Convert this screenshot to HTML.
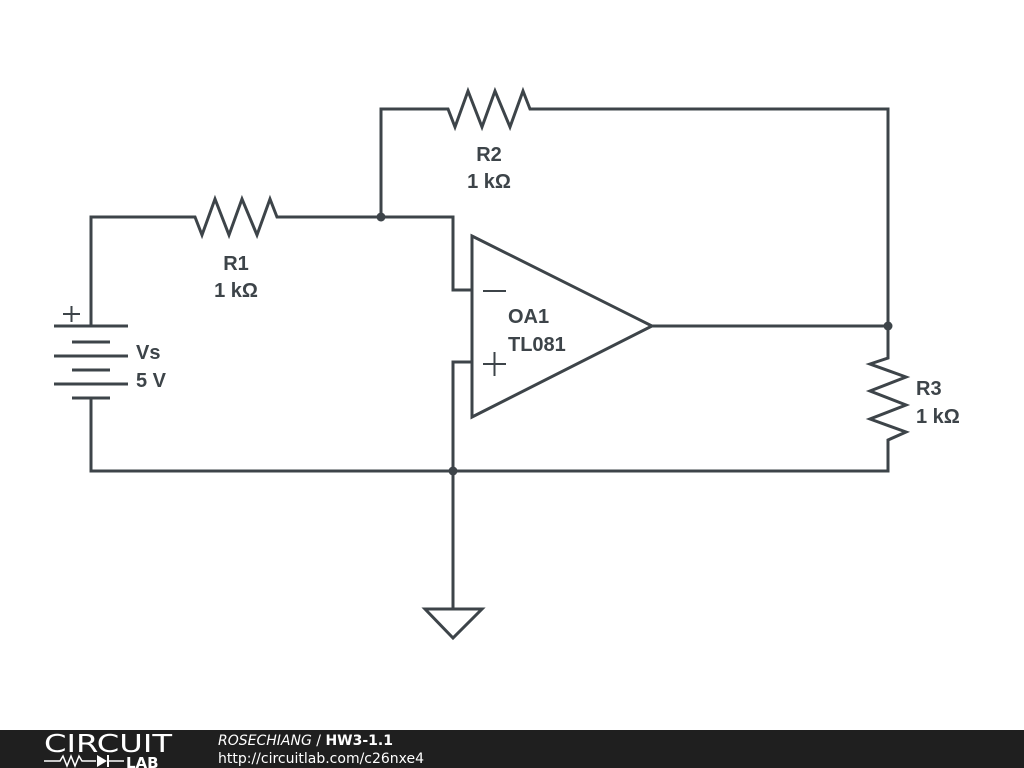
<!DOCTYPE html>
<html><head><meta charset="utf-8"><style>
body{margin:0;width:1024px;height:768px;background:#fff;overflow:hidden;position:relative;font-family:"Liberation Sans","DejaVu Sans",sans-serif}
svg{position:absolute;left:0;top:0}
.t{font-family:"Liberation Sans","DejaVu Sans",sans-serif;font-weight:bold;font-size:20px;fill:#3d4449}
</style></head><body>
<svg width="1024" height="768" viewBox="0 0 1024 768">
<g fill="none" stroke="#3d4449" stroke-width="3" stroke-linejoin="miter">
<polyline points="91,326 91,217 195,217 202,235 215,199 229,235 242,199 257,235 270,199 277,217 453,217 453,290 472,290"/>
<polyline points="381,217 381,109 448,109 455,127 468,91 482,127 495,91 510,127 523,91 530,109 888,109 888,358 870,364 906,377 870,391 906,405 870,419 906,432 888,440 888,471 91,471 91,398"/>
<polyline points="472,362 453,362 453,609"/>
<line x1="652" y1="326" x2="888" y2="326"/>
<polygon points="472,236 652,326 472,417"/>
<line x1="54" y1="326" x2="128" y2="326"/>
<line x1="72" y1="342" x2="110" y2="342"/>
<line x1="54" y1="356" x2="128" y2="356"/>
<line x1="72" y1="370" x2="110" y2="370"/>
<line x1="54" y1="384" x2="128" y2="384"/>
<line x1="72" y1="398" x2="110" y2="398"/>
<line x1="63" y1="314" x2="80" y2="314" stroke-width="2"/>
<line x1="71.5" y1="306" x2="71.5" y2="322" stroke-width="2"/>
<line x1="483" y1="291" x2="506" y2="291" stroke-width="2"/>
<line x1="483" y1="364" x2="506" y2="364" stroke-width="2"/>
<line x1="494.5" y1="352" x2="494.5" y2="376" stroke-width="2"/>
<polygon points="425,609 482,609 453,638"/>
</g>
<g fill="#3d4449">
<circle cx="381" cy="217" r="4.5"/><circle cx="888" cy="326" r="4.5"/><circle cx="453" cy="471" r="4.5"/>
</g>
<text class="t" x="236" y="270" text-anchor="middle">R1</text>
<text class="t" x="236" y="297" text-anchor="middle">1 kΩ</text>
<text class="t" x="489" y="161" text-anchor="middle">R2</text>
<text class="t" x="489" y="188" text-anchor="middle">1 kΩ</text>
<text class="t" x="916" y="395">R3</text>
<text class="t" x="916" y="423">1 kΩ</text>
<text class="t" x="136" y="359">Vs</text>
<text class="t" x="136" y="387">5 V</text>
<text class="t" x="508" y="323">OA1</text>
<text class="t" x="508" y="351">TL081</text>
<rect x="0" y="730" width="1024" height="38" fill="#1f1f1f"/>
<text x="44" y="752" font-family="DejaVu Sans" font-size="25" fill="#fff" textLength="128" lengthAdjust="spacingAndGlyphs">CIRCUIT</text>
<polyline points="44,761 60,761 63,756 67,766 71,756 75,766 79,756 82,761 96,761" fill="none" stroke="#fff" stroke-width="1.5"/>
<polygon points="97,755 97,767 107,761" fill="#fff"/>
<line x1="108" y1="755" x2="108" y2="767" stroke="#fff" stroke-width="2"/>
<line x1="108" y1="761" x2="124" y2="761" stroke="#fff" stroke-width="1.5"/>
<text x="126" y="768" font-family="DejaVu Sans" font-weight="bold" font-size="15" fill="#fff">LAB</text>
<text x="218" y="745" font-family="DejaVu Sans" font-size="14" fill="#fff"><tspan font-style="italic">ROSECHIANG</tspan> / <tspan font-weight="bold">HW3-1.1</tspan></text>
<text x="218" y="763" font-family="DejaVu Sans" font-size="14" fill="#fff">http://circuitlab.com/c26nxe4</text>
</svg>
</body></html>
